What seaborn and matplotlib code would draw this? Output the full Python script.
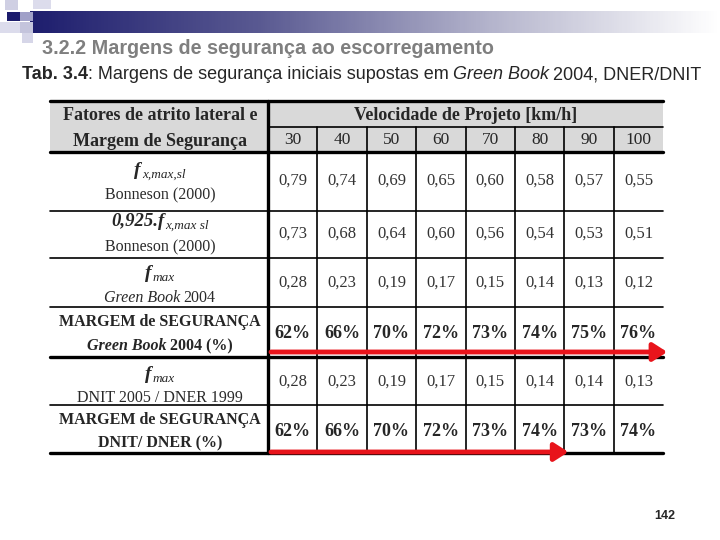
import matplotlib
matplotlib.use("Agg")
import matplotlib.pyplot as plt
import seaborn as sns
import numpy as np
from matplotlib.colors import LinearSegmentedColormap

# dados da tabela
speeds = [30, 40, 50, 60, 70, 80, 90, 100]
f_x_max_sl = [0.79, 0.74, 0.69, 0.65, 0.60, 0.58, 0.57, 0.55]
f_reduzido = [0.73, 0.68, 0.64, 0.60, 0.56, 0.54, 0.53, 0.51]
f_max_gb = [0.28, 0.23, 0.19, 0.17, 0.15, 0.14, 0.13, 0.12]
margem_gb = [62, 66, 70, 72, 73, 74, 75, 76]
f_max_dnit = [0.28, 0.23, 0.19, 0.17, 0.15, 0.14, 0.14, 0.13]
margem_dnit = [62, 66, 70, 72, 73, 74, 73, 74]

sns.set_theme(style="white")
plt.rcParams["font.family"] = ["Liberation Serif", "DejaVu Serif"]

fig = plt.figure(figsize=(7.2, 5.4), dpi=100)
ax = fig.add_axes([0, 0, 1, 1])
ax.set_xlim(0, 720)
ax.set_ylim(540, 0)
ax.axis("off")

SERIF = "Liberation Serif"
SANS = "Liberation Sans"

# decoracao do topo
cmap = LinearSegmentedColormap.from_list("bar", ["#1e1e6e", "#5a5a92", "#b4b4cc", "#ffffff"])
grad = np.linspace(0, 1, 300).reshape(1, -1)
ax.imshow(grad, cmap=cmap, extent=[30, 720, 33, 11], aspect="auto", zorder=1)
squares = [(5, 0, 13, 10, "#cfcfe3"), (33, 0, 18, 9, "#dcdcec"),
           (7, 12, 13, 9, "#1c1c6c"), (20, 12, 13, 9, "#a0a0c8"),
           (0, 22, 20, 11, "#dcdcec"), (20, 22, 13, 11, "#c4c4dc"),
           (22, 33, 11, 10, "#d6d6e8")]
for x, y, w, h, c in squares:
    ax.add_patch(plt.Rectangle((x, y), w, h, color=c, lw=0, zorder=2))

ax.text(42, 48, "3.2.2 Margens de segurança ao escorregamento", family=SANS,
        weight="bold", fontsize=14.2, color="#7f7f7f", va="center", ha="left")


def rich(x, y, parts, ha="center"):
    # parts: (texto, kwargs, dy, gap)
    texts = []
    for s, kw, dy, gap in parts:
        kw = dict(kw)
        kw.setdefault("family", SERIF)
        texts.append(ax.text(0, y + dy, s, ha="left", va="baseline", **kw))
    fig.canvas.draw()
    r = fig.canvas.get_renderer()
    widths = [t.get_window_extent(r).width for t in texts]
    gaps = [p[3] for p in parts]
    total = sum(widths) + sum(gaps)
    cur = x - total / 2 if ha == "center" else x
    for t, w, g in zip(texts, widths, gaps):
        t.set_x(cur)
        cur += w + g


rich(22, 79, [("Tab. 3.4", dict(family=SANS, weight="bold", fontsize=13), 0, 0),
              (": Margens de segurança iniciais supostas em", dict(family=SANS, fontsize=13), 0, 4),
              ("Green Book", dict(family=SANS, style="italic", fontsize=13), 0, 4),
              ("2004, DNER/DNIT", dict(family=SANS, fontsize=13), 0, 0)], ha="left")

# geometria da tabela
x_left, x0, cw = 50, 268, 49.4
x_right = x0 + cw * len(speeds)
rows = [152, 211, 258, 307, 357, 405, 453]
col_c = [x0 + cw * (i + 0.5) for i in range(len(speeds))]
lab_c = 160

ax.add_patch(plt.Rectangle((x_left, 101), x_right - x_left, rows[0] - 101,
                           color="#d9d9d9", lw=0, zorder=1))
thick, thin = 2.4, 1.2
ax.plot([x_left, x_right], [101, 101], color="black", lw=thick, zorder=3)
ax.plot([x0, x_right], [127, 127], color="black", lw=thin, zorder=3)
for i, yy in enumerate(rows):
    lw = thick if i in (0, 4, 6) else thin
    ax.plot([x_left, x_right], [yy, yy], color="black", lw=lw, zorder=3)
ax.plot([x0, x0], [101, rows[-1]], color="black", lw=thick, zorder=3)
for i in range(1, len(speeds)):
    xx = x0 + cw * i
    ax.plot([xx, xx], [127, rows[-1]], color="black", lw=thin, zorder=3)

# cabecalho
hb = dict(family=SERIF, weight="bold", fontsize=13, ha="center", va="center")
ax.text(lab_c, 116, "Fatores de atrito lateral e", **hb)
ax.text(lab_c, 141, "Margem de Segurança", **hb)
ax.text((x0 + x_right) / 2, 116, "Velocidade de Projeto [km/h]", **hb)
for cx, v in zip(col_c, speeds):
    ax.text(cx, 140, str(v), family=SERIF, fontsize=12.5, ha="center", va="center")

# coluna de rotulos
fbi = dict(weight="bold", style="italic", fontsize=14)
sub = dict(style="italic", fontsize=9.5)
gray = "#2a2a2a"
reg = dict(family=SERIF, fontsize=11.5, ha="center", va="center", color=gray)
rich(lab_c, 175, [("f", fbi, 0, 1), ("x,max,sl", sub, 3, 0)])
ax.text(lab_c, 195, "Bonneson (2000)", **reg)
rich(lab_c, 226, [("0,925.f", dict(weight="bold", style="italic", fontsize=13.5), 0, 1),
                  ("x,max sl", sub, 3, 0)])
ax.text(lab_c, 247, "Bonneson (2000)", **reg)
rich(lab_c, 278, [("f", fbi, 0, 1), ("max", sub, 3, 0)])
rich(lab_c, 302, [("Green Book", dict(style="italic", fontsize=11.5, color=gray), 0, 3),
                  ("2004", dict(fontsize=11.5, color=gray), 0, 0)])
ax.text(lab_c, 322, "MARGEM de SEGURANÇA", family=SERIF, weight="bold", fontsize=11.5,
        ha="center", va="center")
rich(lab_c, 350, [("Green Book", dict(weight="bold", style="italic", fontsize=11.5), 0, 3),
                  ("2004 (%)", dict(weight="bold", fontsize=11.5), 0, 0)])
rich(lab_c, 379, [("f", fbi, 0, 1), ("max", sub, 3, 0)])
ax.text(lab_c, 398, "DNIT 2005 / DNER 1999", **reg)
ax.text(lab_c, 420, "MARGEM de SEGURANÇA", family=SERIF, weight="bold", fontsize=11.5,
        ha="center", va="center")
ax.text(lab_c, 443, "DNIT/ DNER (%)", family=SERIF, weight="bold", fontsize=11.5,
        ha="center", va="center")

# valores
def fmt(v):
    return f"{v:.2f}".replace(".", ",")

val_kw = dict(family=SERIF, fontsize=12, ha="center", va="center", color="#333333")
pct_kw = dict(family=SERIF, fontsize=13, weight="bold", ha="center", va="center")
for serie, yy in [(f_x_max_sl, 181), (f_reduzido, 234), (f_max_gb, 283), (f_max_dnit, 382)]:
    for cx, v in zip(col_c, serie):
        ax.text(cx, yy, fmt(v), **val_kw)
for serie, yy in [(margem_gb, 334), (margem_dnit, 432)]:
    for cx, v in zip(col_c, serie):
        ax.text(cx, yy, f"{v}%", **pct_kw)

# setas vermelhas: trecho em que a margem cresce
def n_cresc(serie):
    n = 1
    while n < len(serie) and serie[n] >= serie[n - 1]:
        n += 1
    return n

for serie, yy in [(margem_gb, 352), (margem_dnit, 452)]:
    x_end = x0 + cw * n_cresc(serie) + 4
    ax.annotate("", xy=(x_end, yy), xytext=(x0 + 3, yy),
                arrowprops=dict(arrowstyle="-|>,head_length=0.7,head_width=0.45",
                                color="#e8141b", lw=3.5, shrinkA=0, shrinkB=0),
                zorder=5)

ax.text(665, 516, "142", family=SANS, weight="bold", fontsize=9, ha="center", va="center")

fig.savefig("out.png", dpi=100)
